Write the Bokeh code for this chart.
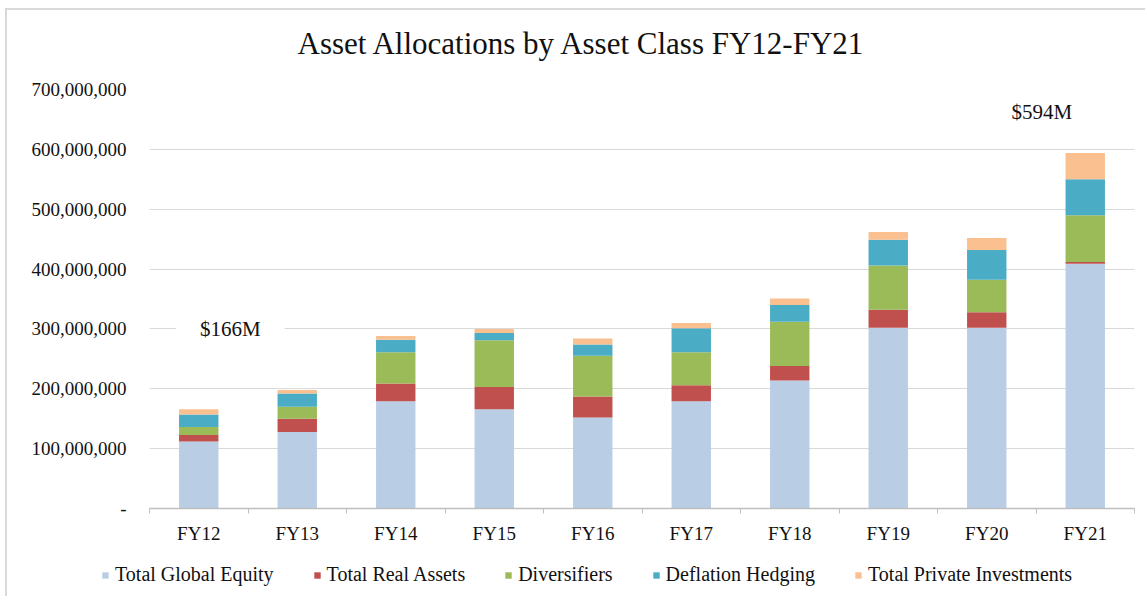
from bokeh.plotting import figure
from bokeh.layouts import column
from bokeh.models import (ColumnDataSource, Range1d, FixedTicker, NumeralTickFormatter,
                          Label, Legend, LegendItem, Title)
from bokeh.embed import file_html
from bokeh.resources import INLINE

# ---- data (US$ millions) ----
categories = ["FY12", "FY13", "FY14", "FY15", "FY16", "FY17", "FY18", "FY19", "FY20", "FY21"]
global_equity = [112, 128, 179, 166, 152, 179, 214, 302, 302, 409]
real_assets = [11, 22, 30, 37, 35, 27, 24, 30, 26, 3]
diversifiers = [13, 20, 52, 78, 68, 55, 74, 74, 54, 78]
deflation_hedging = [21, 22, 21, 12, 19, 40, 28, 43, 50, 60]
private_investments = [9, 6, 6, 7, 10, 9, 11, 13, 20, 44]
series_names = ["Total Global Equity", "Total Real Assets", "Diversifiers",
                "Deflation Hedging", "Total Private Investments"]
y_ticks = [0, 100000000, 200000000, 300000000, 400000000, 500000000, 600000000, 700000000]
callouts = ["$166M", "$594M"]

colors = ["#B9CDE5", "#C0504D", "#9BBB59", "#4BACC6", "#FAC090"]
FONT = "Liberation Serif"
TXT = "#111111"
W = 1138

keys = ["eq", "ra", "dv", "dh", "pi"]
series = [global_equity, real_assets, diversifiers, deflation_hedging, private_investments]
centers = [i + 0.5 for i in range(len(categories))]
data = {"x": centers}
for k, s in zip(keys, series):
    data[k] = [v * 1e6 for v in s]
source = ColumnDataSource(data)

p = figure(width=W, height=542, output_backend="svg", toolbar_location=None,
           x_range=Range1d(0, len(categories)), y_range=Range1d(0, y_ticks[-1]),
           min_border_left=142, min_border_right=11, min_border_top=79, min_border_bottom=44)
p.outline_line_color = None
p.background_fill_color = "white"
p.frame_align = False

# spacer between frame and title (nearest to the frame), then the title itself
spacer = Title(text=" ", text_font_size="1px", standoff=26, text_color="white")
p.add_layout(spacer, "above")
title = Title(text="Asset Allocations  by Asset Class FY12-FY21", align="left", offset=148,
              text_font=FONT, text_font_size="31px", text_font_style="normal",
              text_color=TXT, standoff=0)
p.add_layout(title, "above")

renderers = p.vbar_stack(keys, x="x", width=0.4, color=colors, line_color=None, source=source)

# axes
p.xgrid.grid_line_color = None
p.ygrid.grid_line_color = "#D9D9D9"
p.ygrid.grid_line_width = 1

p.yaxis.ticker = FixedTicker(ticks=y_ticks, minor_ticks=[])
p.yaxis.formatter = NumeralTickFormatter(format="0,0")
p.yaxis.major_label_overrides = {0: "-"}
p.yaxis.axis_line_color = None
p.yaxis.major_tick_line_color = None
p.yaxis.minor_tick_line_color = None
p.yaxis.major_tick_out = 0
p.yaxis.major_label_standoff = 23
p.yaxis.major_label_text_font = FONT
p.yaxis.major_label_text_font_size = "19px"
p.yaxis.major_label_text_color = TXT

bounds = [float(i) for i in range(len(categories) + 1)]
p.xaxis.ticker = FixedTicker(ticks=centers, minor_ticks=bounds)
p.xaxis.major_label_overrides = {c: cat for c, cat in zip(centers, categories)}
p.xaxis.axis_line_color = "#BFBFBF"
p.xaxis.axis_line_width = 1.5
p.xaxis.major_tick_line_color = None
p.xaxis.major_tick_out = 0
p.xaxis.major_tick_in = 0
p.xaxis.minor_tick_line_color = "#BFBFBF"
p.xaxis.minor_tick_out = 5
p.xaxis.minor_tick_in = 0
p.xaxis.major_label_standoff = 9
p.xaxis.major_label_text_font = FONT
p.xaxis.major_label_text_font_size = "19px"
p.xaxis.major_label_text_color = TXT

# callout labels
lab1 = Label(x=centers[0] + 0.32, y=300e6, text=callouts[0], text_align="center",
             text_baseline="middle", text_font=FONT, text_font_size="21px", text_color=TXT,
             background_fill_color="white", padding=dict(left=24, right=24, top=3, bottom=3))
lab2 = Label(x=centers[-1] - 0.44, y=662e6, text=callouts[1], text_align="center",
             text_baseline="middle", text_font=FONT, text_font_size="21px", text_color=TXT,
             background_fill_color="white", padding=dict(left=24, right=24, top=14, bottom=14))
p.add_layout(lab1)
p.add_layout(lab2)

# legend strip (separate small figure below the chart)
lg = figure(width=W, height=44, output_backend="svg", toolbar_location=None,
            x_range=Range1d(0, 1), y_range=Range1d(0, 1),
            min_border_left=0, min_border_right=0, min_border_top=0, min_border_bottom=0,
            x_axis_location=None, y_axis_location=None)
lg.frame_align = False
lg.outline_line_color = None
lg.xgrid.grid_line_color = None
lg.ygrid.grid_line_color = None
dummy = [lg.vbar(x=[0.5], top=[0], bottom=[0], width=0.01, color=c, line_color=None) for c in colors]
legend = Legend(items=[LegendItem(label=n, renderers=[r]) for n, r in zip(series_names, dummy)],
                orientation="horizontal", location=(94, 10), border_line_color=None,
                background_fill_alpha=0, label_text_font=FONT, label_text_font_size="20px",
                label_text_color=TXT, glyph_width=8, glyph_height=8, spacing=39,
                label_standoff=6, padding=4, margin=0)
lg.add_layout(legend, "center")

layout = column(p, lg, spacing=0, margin=(8, 0, 0, 5),
                styles={"border-left": "2px solid #D9D9D9", "border-top": "2px solid #D9D9D9"})
open("out.html", "w").write(file_html(layout, INLINE))
